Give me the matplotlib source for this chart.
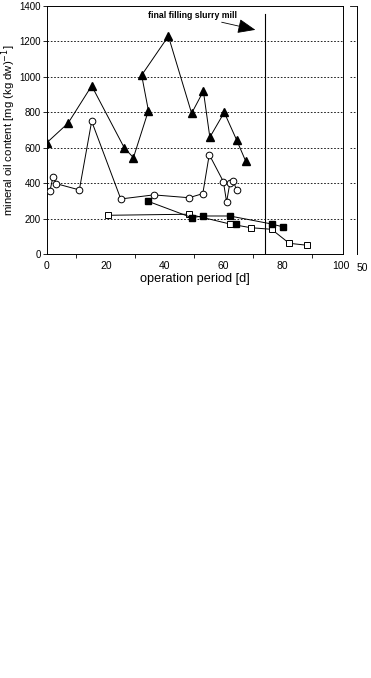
import matplotlib
matplotlib.use("Agg")
import matplotlib.pyplot as plt

plt.rcParams['font.family'] = ['Liberation Sans', 'DejaVu Sans']

# Data
tri_x = [0.0, 7.2, 15.2, 26.3, 29.4, 34.5, 32.2, 41.3, 49.2, 53.2, 55.4, 60.3, 64.5, 67.6]
tri_y = [630, 740, 950, 600, 545, 810, 1010, 1230, 795, 920, 660, 800, 645, 525]

circ_x = [1.0, 2.0, 3.2, 11.0, 15.2, 25.1, 36.3, 48.3, 53.0, 55.2, 60.0, 61.1, 62.2, 63.4, 64.5]
circ_y = [357, 434, 398, 363, 750, 312, 335, 319, 342, 562, 410, 295, 400, 415, 360]

fsq_x = [34.2, 49.2, 53.2, 62.2, 76.4, 80.4]
fsq_y = [300, 207, 216, 216, 171, 154]

fsq_extra_x = [64.3]
fsq_extra_y = [169]

osq_x = [20.9, 48.3, 62.2, 69.3, 76.4, 82.4, 88.5]
osq_y = [220, 226, 171, 150, 141, 62, 51]

x_ticks = [0, 20, 40, 60, 80, 100]
y_ticks = [0, 200, 400, 600, 800, 1000, 1200, 1400]
final_filling_x = 74

W, H = 371, 678
fig = plt.figure(figsize=(W / 100, H / 100), dpi=100)

left_px, right_px, top_px, bottom_px = 47, 343, 6, 254.3
ax = fig.add_axes([left_px / W, 1 - bottom_px / H, (right_px - left_px) / W, (bottom_px - top_px) / H])

lw = 0.7
ax.plot(tri_x, tri_y, color='black', lw=lw, marker='^', ms=5.6, mfc='black', mec='black', zorder=3)
ax.plot(circ_x, circ_y, color='black', lw=lw, marker='o', ms=4.8, mfc='white', mec='black', mew=0.7, zorder=3)
ax.plot(osq_x, osq_y, color='black', lw=lw, marker='s', ms=4.8, mfc='white', mec='black', mew=0.7, zorder=3)
ax.plot(fsq_x, fsq_y, color='black', lw=lw, marker='s', ms=4.8, mfc='black', mec='black', zorder=4)
ax.plot(fsq_extra_x, fsq_extra_y, ls='none', marker='s', ms=4.8, mfc='black', mec='black', zorder=4)

ax.set_xlim(0, 100.7)
ax.set_ylim(0, 1400)

for yv in y_ticks[1:-1]:
    ax.axhline(yv, color='black', lw=0.6, ls=(0, (2, 2)), zorder=1)

ax.plot([final_filling_x, final_filling_x], [0, 1355], color='black', lw=0.8, zorder=2)
ax.annotate('', xy=(71.8, 1262), xytext=(58.5, 1312),
            arrowprops=dict(arrowstyle='-|>,head_length=1.1,head_width=0.45', color='black', lw=0.6))
ax.text(49.5, 1345, 'final filling slurry mill', ha='center', va='center', fontsize=6.3, fontweight='bold')

ax.set_xticks(x_ticks)
ax.set_xticklabels([str(v) for v in x_ticks])
ax.tick_params(axis='x', length=0, pad=5, labelsize=7.5)
ax.set_xticks([10, 30, 50, 70, 90], minor=True)
ax.tick_params(axis='x', which='minor', length=3, direction='out', width=0.6)
ax.set_yticks(y_ticks)
ax.tick_params(axis='y', length=3, direction='out', width=0.6, labelsize=7.0, pad=1.5)
for s in ax.spines.values():
    s.set_linewidth(0.7)

ax.set_xlabel('operation period [d]', fontsize=9.2, labelpad=1)
ax.set_ylabel('mineral oil content [mg (kg dw)$^{-1}$]', fontsize=8.2)
ax.yaxis.set_label_coords(-0.097, 0.5)

# secondary right axis fragment
ax2 = fig.add_axes([349 / W, 1 - bottom_px / H, 8 / W, (bottom_px - top_px) / H])
ax2.set_ylim(0, 1400)
ax2.set_xlim(0, 1)
for k in ['left', 'top', 'bottom']:
    ax2.spines[k].set_visible(False)
ax2.spines['right'].set_linewidth(0.7)
ax2.set_xticks([])
ax2.set_yticks([])
ax2.patch.set_alpha(0)
for yv in y_ticks:
    ax2.plot([0.1, 1], [yv, yv], color='black', lw=0.6, ls=(0, (2, 2)) if 0 < yv < 1400 else '-')
fig.text(362 / W, 1 - 268 / H, '50', fontsize=7.5, ha='center', va='center')

fig.savefig('out.png', dpi=100)
